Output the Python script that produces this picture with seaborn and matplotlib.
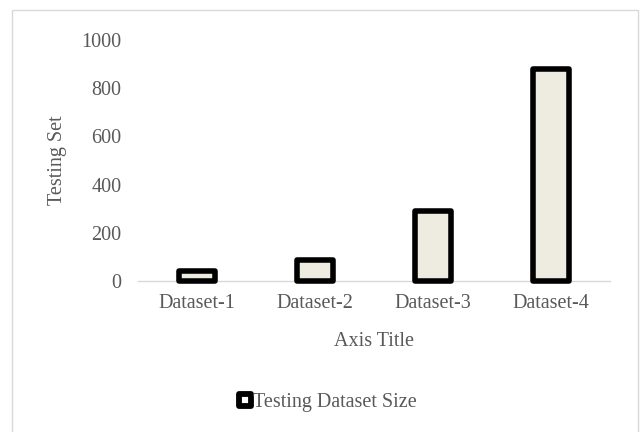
import matplotlib
matplotlib.use("Agg")
import matplotlib.pyplot as plt
from matplotlib.lines import Line2D
from matplotlib.markers import MarkerStyle
from matplotlib.patches import Rectangle
import seaborn as sns

categories = ["Dataset-1", "Dataset-2", "Dataset-3", "Dataset-4"]
testing_size = [40, 88, 290, 880]
series_name = "Testing Dataset Size"
y_ticks = [0, 200, 400, 600, 800, 1000]

sns.set_theme(style="white")
plt.rcParams["font.family"] = ["Liberation Serif", "DejaVu Serif"]

text_color = "#595959"
fs = 14.5

fig = plt.figure(figsize=(6.41, 4.32), dpi=100)
ax = fig.add_axes([0.2153, 0.3495, 0.7363, 0.5579])

sns.barplot(x=categories, y=testing_size, color="#eeece1", width=0.31,
            edgecolor="black", linewidth=4.0, saturation=1, ax=ax)
for p in ax.patches:
    p.set_joinstyle("round")
    p.set_clip_on(False)
    p.set_zorder(3)

ax.set_ylim(0, 1000)
ax.set_xlim(-0.5, 3.5)
ax.set_yticks(y_ticks)
ax.set_yticklabels([str(t) for t in y_ticks], fontsize=fs, color=text_color)
ax.tick_params(axis="y", length=0, pad=12)
ax.tick_params(axis="x", length=0, pad=9, labelsize=fs, labelcolor=text_color)
for s in ["top", "right", "left"]:
    ax.spines[s].set_visible(False)
ax.spines["bottom"].set_color("#d9d9d9")
ax.spines["bottom"].set_linewidth(1.0)
ax.grid(False)

ax.set_xlabel("Axis Title", fontsize=fs, color=text_color, labelpad=14)
ax.set_ylabel("Testing Set", fontsize=fs, color=text_color, labelpad=10)

marker = MarkerStyle("s", joinstyle="round")
handle = Line2D([], [], linestyle="none", marker=marker, markersize=8,
                markerfacecolor="white", markeredgecolor="black",
                markeredgewidth=4.2)
leg = fig.legend([handle], [series_name], loc="center",
                 bbox_to_anchor=(327 / 641, 1 - 402 / 432), frameon=False,
                 fontsize=fs, handlelength=0.7, handletextpad=0.05,
                 borderpad=0)
for t in leg.get_texts():
    t.set_color(text_color)

fig.patches.append(Rectangle((12 / 641, -0.05), 626 / 641, 1 - 10 / 432 + 0.05,
                             transform=fig.transFigure, fill=False,
                             edgecolor="#d9d9d9", linewidth=1.0))

fig.savefig("out.png", dpi=100, facecolor="white")
